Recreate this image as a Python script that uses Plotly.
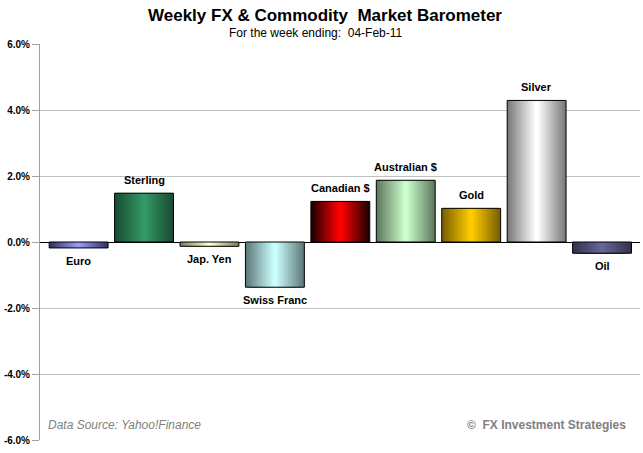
import plotly.graph_objects as go

categories = ["Euro", "Sterling", "Jap. Yen", "Swiss Franc", "Canadian $",
              "Australian $", "Gold", "Silver", "Oil"]
values = [-0.18, 1.48, -0.13, -1.37, 1.23, 1.87, 1.02, 4.29, -0.34]
edge_colors = ["#333366", "#1a4d33", "#808066", "#5f7a7a", "#200000",
               "#5f7a5f", "#7a6000", "#7a7a7a", "#33334d"]
center_colors = ["#9999ff", "#339966", "#ffffcc", "#ccffff", "#ff0000",
                 "#ccffcc", "#ffcc00", "#ffffff", "#666699"]
tick_vals = [-6, -4, -2, 0, 2, 4, 6]
tick_text = ["-6.0%", "-4.0%", "-2.0%", "0.0%", "2.0%", "4.0%", "6.0%"]


def hex2rgb(h):
    h = h.lstrip("#")
    return tuple(int(h[i:i + 2], 16) for i in (0, 2, 4))


def mix(a, b, t):
    ra, rb = hex2rgb(a), hex2rgb(b)
    return "rgb(%d,%d,%d)" % tuple(round(ra[i] + (rb[i] - ra[i]) * t) for i in range(3))


BAR_W = 0.9
N = 18
fig = go.Figure()
for k in range(N):
    t = k / (N - 1)
    w = BAR_W * (1 - k / N)
    fig.add_trace(go.Bar(
        x=categories, y=values, width=[w] * len(values),
        marker=dict(color=[mix(e, c, t) for e, c in zip(edge_colors, center_colors)],
                    line=dict(width=0)),
        showlegend=False, hoverinfo="skip"))
# outline
fig.add_trace(go.Bar(
    x=categories, y=values, width=[BAR_W] * len(values),
    marker=dict(color="rgba(0,0,0,0)", line=dict(color="black", width=1)),
    showlegend=False, hoverinfo="skip"))

for cat, v in zip(categories, values):
    fig.add_annotation(x=cat, y=v, text="<b>%s</b>" % cat, showarrow=False,
                       yanchor="bottom" if v >= 0 else "top",
                       yshift=5 if v >= 0 else -5,
                       font=dict(family="Liberation Sans", size=11, color="black"))

fig.add_annotation(xref="paper", yref="paper", x=0.475, y=1, yanchor="bottom", yshift=17,
                   text="<b>Weekly FX &amp; Commodity  Market Barometer</b>", showarrow=False,
                   font=dict(family="Liberation Sans", size=17, color="black"))
fig.add_annotation(xref="paper", yref="paper", x=0.46, y=1, yanchor="bottom", yshift=2,
                   text="For the week ending:  04-Feb-11", showarrow=False,
                   font=dict(family="Liberation Sans", size=12, color="black"))
fig.add_annotation(xref="paper", yref="paper", x=0.01, y=0, xanchor="left", yanchor="bottom",
                   yshift=6, text="<i>Data Source: Yahoo!Finance</i>", showarrow=False,
                   font=dict(family="Liberation Sans", size=12, color="#808080"))
fig.add_annotation(xref="paper", yref="paper", x=0.98, y=0, xanchor="right", yanchor="bottom",
                   yshift=6, text="<b>©  FX Investment Strategies</b>", showarrow=False,
                   font=dict(family="Liberation Sans", size=12, color="#808080"))

fig.update_layout(
    width=643, height=453, barmode="overlay",
    margin=dict(l=40, r=3, t=44, b=13),
    paper_bgcolor="white", plot_bgcolor="white",
    xaxis=dict(range=[-0.59, 8.58], showticklabels=False, showgrid=False, zeroline=False,
               showline=False, fixedrange=True),
    yaxis=dict(range=[-6, 6], tickvals=tick_vals, ticktext=["<b>%s</b>" % s for s in tick_text],
               showgrid=True, gridcolor="#c0c0c0", gridwidth=1,
               zeroline=True, zerolinecolor="black", zerolinewidth=1,
               showline=True, linecolor="#a0a0a0", linewidth=1,
               ticks="outside", ticklen=7, tickcolor="#a0a0a0",
               tickfont=dict(family="Liberation Sans", size=10, color="black")),
)

fig.write_html("out.html")
